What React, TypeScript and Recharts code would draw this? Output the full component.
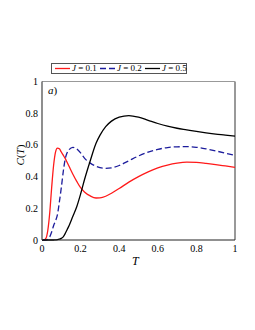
import React from "react";
import { LineChart, Line, XAxis, YAxis, ReferenceLine } from "recharts";

const T = [0, 0.01, 0.02, 0.03, 0.04, 0.05, 0.06, 0.07, 0.08, 0.09, 0.1, 0.11, 0.12, 0.13, 0.14, 0.16, 0.18, 0.2, 0.22, 0.25, 0.28, 0.3, 0.33, 0.36, 0.4, 0.45, 0.5, 0.55, 0.6, 0.65, 0.7, 0.75, 0.8, 0.85, 0.9, 0.95, 1.0];
const J01 = [0, 0, 0.01, 0.06, 0.17, 0.33, 0.47, 0.555, 0.58, 0.575, 0.555, 0.535, 0.515, 0.49, 0.465, 0.415, 0.37, 0.33, 0.303, 0.278, 0.265, 0.266, 0.276, 0.295, 0.325, 0.365, 0.4, 0.43, 0.455, 0.473, 0.485, 0.491, 0.49, 0.484, 0.476, 0.467, 0.458];
const J02 = [0, 0, 0, 0.005, 0.02, 0.05, 0.09, 0.12, 0.16, 0.24, 0.33, 0.43, 0.51, 0.55, 0.57, 0.585, 0.575, 0.55, 0.517, 0.485, 0.465, 0.457, 0.452, 0.455, 0.47, 0.5, 0.53, 0.555, 0.572, 0.583, 0.588, 0.589, 0.585, 0.575, 0.562, 0.548, 0.533];
const J05 = [0, 0, 0, 0, 0, 0, 0, 0.001, 0.002, 0.005, 0.01, 0.02, 0.04, 0.065, 0.09, 0.15, 0.21, 0.29, 0.38, 0.5, 0.61, 0.66, 0.715, 0.75, 0.775, 0.785, 0.775, 0.755, 0.735, 0.718, 0.705, 0.695, 0.685, 0.676, 0.668, 0.662, 0.655];
const TICKS = [0, 0.2, 0.4, 0.6, 0.8, 1];
const LEGEND = ["0.1", "0.2", "0.5"];

const data = T.map((t, i) => ({ T: t, a: J01[i], b: J02[i], c: J05[i] }));

const FONT = "'Liberation Serif', 'DejaVu Serif', serif";
const RED = "#ff1a1a";
const BLUE = "#1c1c9c";

export default function App() {
  const tickStyle = { fontSize: 10, fill: "#000", fontFamily: FONT };
  const legendItems = [
    { color: RED, dash: undefined as string | undefined, x: 3, label: LEGEND[0] },
    { color: BLUE, dash: "6 3", x: 48, label: LEGEND[1] },
    { color: "#000", dash: undefined, x: 93, label: LEGEND[2] },
  ];
  return (
    <div style={{ position: "absolute", left: 0, top: 0, width: 255, height: 330, background: "#fff", fontFamily: FONT }}>
      <LineChart width={255} height={330} data={data} margin={{ top: 81.5, right: 20, bottom: 60, left: 0 }}>
        <XAxis
          dataKey="T"
          type="number"
          domain={[0, 1]}
          ticks={TICKS}
          height={30}
          axisLine={{ stroke: "#222", strokeWidth: 1.2 }}
          tickLine={false}
          tickSize={3}
          tickMargin={2}
          tick={tickStyle}
        />
        <YAxis
          type="number"
          domain={[0, 1]}
          ticks={TICKS}
          width={42}
          axisLine={{ stroke: "#444", strokeWidth: 1.2 }}
          tickLine={false}
          tickSize={3}
          tickMargin={1}
          tick={tickStyle}
        />
        <ReferenceLine y={1} stroke="#999" strokeWidth={1.2} />
        <ReferenceLine x={1} stroke="#999" strokeWidth={2} />
        <Line dataKey="a" type="monotone" stroke={RED} strokeWidth={1.3} dot={false} isAnimationActive={false} />
        <Line dataKey="b" type="monotone" stroke={BLUE} strokeWidth={1.3} strokeDasharray="6 3" dot={false} isAnimationActive={false} />
        <Line dataKey="c" type="monotone" stroke="#000" strokeWidth={1.3} dot={false} isAnimationActive={false} />
      </LineChart>

      <div style={{ position: "absolute", left: 51, top: 63, width: 134, height: 9, border: "1px solid #555", background: "#fff" }}>
        {legendItems.map((it, i) => (
          <div key={i} style={{ position: "absolute", left: it.x, top: 0, height: 9, display: "flex", alignItems: "center", whiteSpace: "nowrap" }}>
            <svg width={15} height={9} style={{ display: "block" }}>
              <line x1={0} y1={4.5} x2={15} y2={4.5} stroke={it.color} strokeWidth={1.3} strokeDasharray={it.dash} />
            </svg>
            <span style={{ fontSize: 9, lineHeight: "9px", marginLeft: 2, color: "#000" }}>
              <i>J</i> = {it.label}
            </span>
          </div>
        ))}
      </div>

      <div style={{ position: "absolute", left: 48, top: 84, fontSize: 11, lineHeight: "12px" }}>
        <i>a</i>)
      </div>

      <div style={{ position: "absolute", left: 132, top: 255, fontSize: 12, lineHeight: "13px" }}>
        <i>T</i>
      </div>

      <div
        style={{
          position: "absolute",
          left: 20,
          top: 155,
          fontSize: 11,
          lineHeight: "12px",
          transform: "translate(-50%, -50%) rotate(-90deg)",
          whiteSpace: "nowrap",
        }}
      >
        <i>C</i>(<i>T</i>)
      </div>
    </div>
  );
}
